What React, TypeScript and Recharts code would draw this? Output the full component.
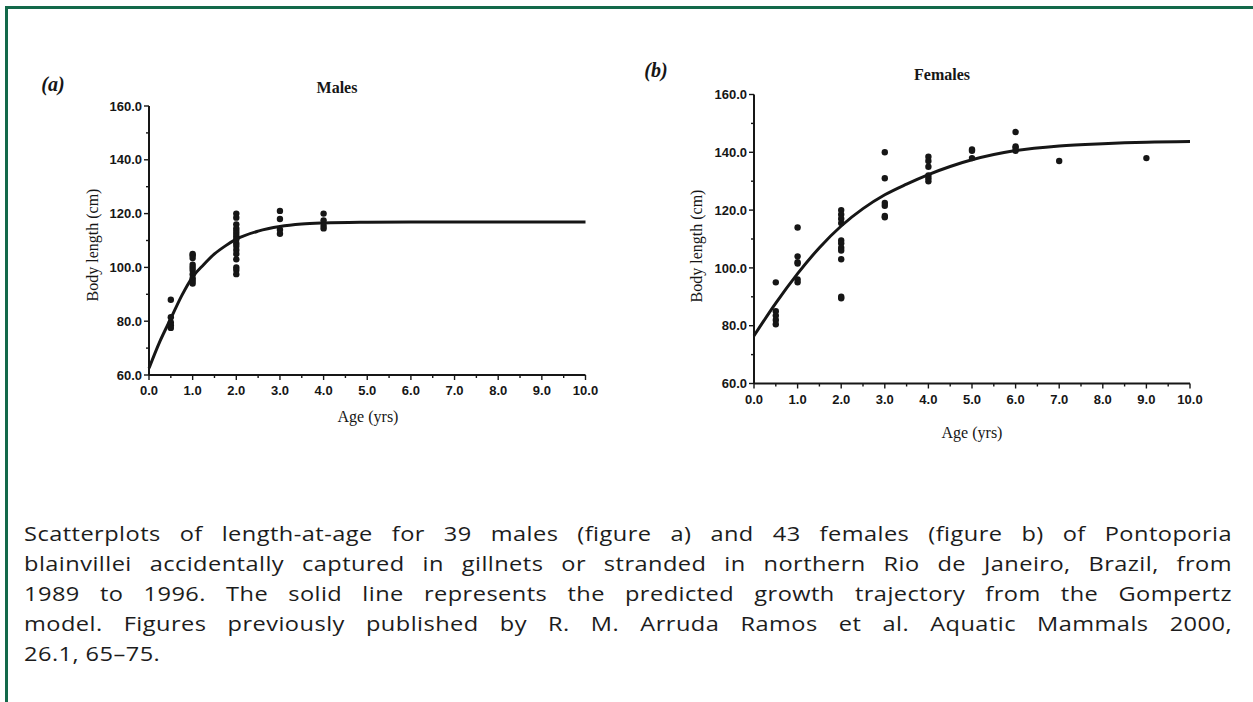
import React from 'react';
import { ComposedChart, Scatter, Line, XAxis, YAxis } from 'recharts';

// males (figure a)
const maleAge = [
  0.5, 0.5, 0.5, 0.5, 0.5,
  1, 1, 1, 1, 1, 1, 1, 1, 1, 1,
  2, 2, 2, 2, 2, 2, 2, 2, 2, 2, 2, 2, 2, 2, 2, 2,
  3, 3, 3, 3,
  4, 4, 4, 4,
];
const maleLength = [
  88, 81.5, 79.5, 78.5, 77.5,
  105, 104.5, 103.5, 101, 100, 99, 97.5, 96, 95, 94,
  120, 118.5, 116, 114.5, 113.5, 112.5, 111.5, 110.5, 109, 108, 106.5, 105, 103, 100, 99, 97.5,
  121, 118, 114, 112.5,
  120, 117.5, 115.5, 114.5,
];
const maleCurveAge = [0, 0.25, 0.5, 0.75, 1, 1.25, 1.5, 1.75, 2, 2.5, 3, 3.5, 4, 5, 6, 7, 8, 9, 10];
const maleCurveLength = [62.5, 72.5, 81, 89.5, 96.5, 101, 105, 108, 110.5, 113.5, 115.2, 116.1, 116.5, 116.8, 116.9, 116.9, 116.9, 116.9, 116.9];

// females (figure b)
const femaleAge = [
  0.5, 0.5, 0.5, 0.5, 0.5,
  1, 1, 1, 1, 1, 1,
  2, 2, 2, 2, 2, 2, 2, 2, 2, 2, 2,
  3, 3, 3, 3, 3, 3,
  4, 4, 4, 4, 4, 4,
  5, 5, 5,
  6, 6, 6, 6,
  7,
  9,
];
const femaleLength = [
  95, 85, 83.5, 82, 80.5,
  114, 104, 102, 101.5, 96, 95,
  120, 118.5, 117, 115.5, 109.5, 108.5, 107, 106, 103, 90, 89.5,
  140, 131, 122.5, 121.5, 118, 117.5,
  138.5, 137, 135, 132, 131, 130,
  141, 140.5, 138,
  147, 142, 141.5, 140.5,
  137,
  138,
];
const femaleCurveAge = [0, 0.5, 1, 1.5, 2, 2.5, 3, 3.5, 4, 4.5, 5, 6, 7, 8, 9, 10];
const femaleCurveLength = [76.5, 87.8, 98, 107, 114.5, 120.5, 125.3, 129, 132.3, 135.1, 137.4, 140.6, 142.2, 143, 143.5, 143.7];

const xTicks = [0, 0.5, 1, 1.5, 2, 2.5, 3, 3.5, 4, 4.5, 5, 5.5, 6, 6.5, 7, 7.5, 8, 8.5, 9, 9.5, 10];
const yTicks = [60, 70, 80, 90, 100, 110, 120, 130, 140, 150, 160];

const captionLines = [
  'Scatterplots of length-at-age for 39 males (figure a) and 43 females (figure b) of Pontoporia',
  'blainvillei accidentally captured in gillnets or stranded in northern Rio de Janeiro, Brazil, from',
  '1989 to 1996. The solid line represents the predicted growth trajectory from the Gompertz',
  'model. Figures previously published by R. M. Arruda Ramos et al. Aquatic Mammals 2000,',
  '26.1, 65–75.',
];

const ink = '#161616';
const tickFont = '"Liberation Sans", Arial, sans-serif';
const serif = '"Liberation Serif", "Times New Roman", serif';

const Y_AXIS_W = 50;
const X_AXIS_H = 30;
const CAPTION_STRETCH = 1.15;

const zip = (ages: number[], lens: number[]) => ages.map((age, i) => ({ age, len: lens[i] }));

// major ticks get a label, half steps only a short mark
const XTick = ({ x, y, payload }: any) => {
  const major = Number.isInteger(payload.value);
  return (
    <g>
      <line x1={x} x2={x} y1={y} y2={y + (major ? 5 : 3)} stroke={ink} strokeWidth={1.4} />
      {major && (
        <text x={x} y={y + 11} dy="0.71em" textAnchor="middle" fontFamily={tickFont}
          fontWeight={700} fontSize={13} fill={ink}>
          {payload.value.toFixed(1)}
        </text>
      )}
    </g>
  );
};

const YTick = ({ x, y, payload }: any) => {
  const major = payload.value % 20 === 0;
  return (
    <g>
      <line x1={x} x2={x - (major ? 5 : 3)} y1={y} y2={y} stroke={ink} strokeWidth={1.4} />
      {major && (
        <text x={x - 7} y={y} dy="0.36em" textAnchor="end" fontFamily={tickFont}
          fontWeight={700} fontSize={13} fill={ink}>
          {payload.value.toFixed(1)}
        </text>
      )}
    </g>
  );
};

const dot = (p: any) => <circle cx={p.cx} cy={p.cy} r={3.2} fill={ink} />;

interface PanelProps {
  width: number;
  height: number;
  plot: { left: number; top: number; right: number; bottom: number };
  points: { age: number; len: number }[];
  curve: { age: number; len: number }[];
}

const Panel = ({ width, height, plot, points, curve }: PanelProps) => (
  <ComposedChart width={width} height={height} margin={{
    top: plot.top,
    left: plot.left - Y_AXIS_W,
    right: width - plot.right,
    bottom: height - plot.bottom - X_AXIS_H,
  }}>
    <XAxis type="number" dataKey="age" domain={[0, 10]} ticks={xTicks} interval={0}
      height={X_AXIS_H} tickSize={0} tickMargin={0} tickLine={false}
      axisLine={{ stroke: ink, strokeWidth: 2 }} tick={<XTick />} />
    <YAxis type="number" dataKey="len" domain={[60, 160]} ticks={yTicks} interval={0}
      width={Y_AXIS_W} tickSize={0} tickMargin={0} tickLine={false}
      axisLine={{ stroke: ink, strokeWidth: 2 }} tick={<YTick />} />
    <Line data={curve} dataKey="len" type="monotone" dot={false} stroke={ink}
      strokeWidth={3} isAnimationActive={false} />
    <Scatter data={points} shape={dot} isAnimationActive={false} />
  </ComposedChart>
);

const label = (text: string, x: number, y: number, style: React.CSSProperties, rotate = 0) => (
  <div style={{
    position: 'absolute', left: x, top: y, whiteSpace: 'nowrap', lineHeight: 1,
    transform: `translate(-50%, -50%) rotate(${rotate}deg)`, color: ink, ...style,
  }}>{text}</div>
);

export default function App() {
  const axisTitle: React.CSSProperties = { fontFamily: serif, fontSize: 16 };
  const panelTitle: React.CSSProperties = { fontFamily: serif, fontSize: 16, fontWeight: 700 };
  const tag: React.CSSProperties = { fontFamily: serif, fontSize: 20, fontWeight: 700, fontStyle: 'italic' };

  return (
    <div style={{ position: 'relative', width: 1253, height: 702, overflow: 'hidden', background: '#fff' }}>
      <style>{'body{margin:0}'}</style>
      <div style={{
        position: 'absolute', left: 5, top: 6, width: 1400, height: 900,
        borderTop: '3px solid #13694a', borderLeft: '3px solid #13694a',
      }} />

      <div style={{ position: 'absolute', left: 0, top: 0 }}>
        <Panel width={620} height={440}
          plot={{ left: 149, top: 106, right: 585.5, bottom: 375 }}
          points={zip(maleAge, maleLength)} curve={zip(maleCurveAge, maleCurveLength)} />
      </div>
      <div style={{ position: 'absolute', left: 620, top: 0 }}>
        <Panel width={633} height={440}
          plot={{ left: 134, top: 94.5, right: 570, bottom: 383.5 }}
          points={zip(femaleAge, femaleLength)} curve={zip(femaleCurveAge, femaleCurveLength)} />
      </div>

      {label('(a)', 53, 84, tag)}
      {label('Males', 337, 88, panelTitle)}
      {label('Body length (cm)', 93, 245, axisTitle, -90)}
      {label('Age (yrs)', 368, 417, axisTitle)}

      {label('(b)', 656, 70, tag)}
      {label('Females', 942, 75, panelTitle)}
      {label('Body length (cm)', 697, 246, axisTitle, -90)}
      {label('Age (yrs)', 972, 433, axisTitle)}

      <div style={{
        position: 'absolute', left: 24, top: 518, width: 1208 / CAPTION_STRETCH,
        transform: `scaleX(${CAPTION_STRETCH})`, transformOrigin: 'left top',
        fontFamily: '"Open Sans", sans-serif', fontSize: 20.5, fontWeight: 500,
        lineHeight: '30px', color: '#1c1c1c', letterSpacing: 0.4,
      }}>
        {captionLines.map((line, i) => (
          <div key={i} style={{
            textAlign: 'justify',
            textAlignLast: i < captionLines.length - 1 ? 'justify' : 'left',
            whiteSpace: 'nowrap',
          }}>{line}</div>
        ))}
      </div>
    </div>
  );
}
